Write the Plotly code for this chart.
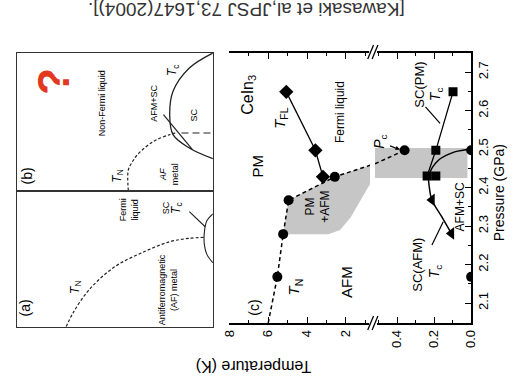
import plotly.graph_objects as go

W, H = 516, 385
FONT = "Liberation Sans, Arial, sans-serif"


def PX(x):
    return x / W


def PY(y):
    return 1 - y / H


# ---------------- Panel (c) data : temperature (K) vs pressure (GPa) ----------------
tn_T = [5.53, 5.23, 4.95, 2.57]
tn_P = [2.168, 2.279, 2.367, 2.428]
tn_line_T = [6.0, 5.53, 5.23, 4.95, 2.57, 0.75]
tn_line_P = [2.048, 2.168, 2.279, 2.367, 2.428, 2.458]

tfl_T = [3.18, 3.57, 5.07]
tfl_P = [2.428, 2.497, 2.649]

coex_T = [5.23, 4.95, 2.57, 0.75, 0.75, 1.3, 1.75, 2.3, 2.9, 5.23]
coex_P = [2.279, 2.367, 2.428, 2.458, 2.41, 2.36, 2.323, 2.29, 2.279, 2.279]

# low-temperature section
coex2_T = [0.52, 0.02, 0.02, 0.52]
coex2_P = [2.425, 2.425, 2.503, 2.503]
pc_line_T = [0.52, 0.36]
pc_line_P = [2.462, 2.497]
pc_T = [0.36]
pc_P = [2.497]
zero_T = [0.0, 0.0]
zero_P = [2.497, 2.168]
sq_T = [0.238, 0.191, 0.191, 0.098]
sq_P = [2.43, 2.43, 2.497, 2.649]
sq_line_T = [0.238, 0.191, 0.098]
sq_line_P = [2.43, 2.497, 2.649]
tri_T = [0.212, 0.107]
tri_P = [2.368, 2.281]
afsc_T = [0.107, 0.16, 0.212, 0.226, 0.228, 0.177, 0.089, 0.0]
afsc_P = [2.281, 2.325, 2.368, 2.40, 2.432, 2.471, 2.493, 2.50]
pm_ptr_T = [0.247, 0.168]
pm_ptr_P = [2.61, 2.567]
afm_ptr_T = [0.212, 0.151]
afm_ptr_P = [2.251, 2.311]

T_ticks_hi = [2, 4, 6, 8]
T_ticks_lo = [0.0, 0.2, 0.4]
P_ticks = [2.1, 2.2, 2.3, 2.4, 2.5, 2.6, 2.7]

# ---------------- Panel (b) schematic (normalised T, P) ----------------
b_tn_T = [0.431, 0.431, 0.41, 0.385, 0.302, 0.220, 0.187]
b_tn_P = [0.0, 0.152, 0.21, 0.261, 0.359, 0.407, 0.419]
b_fo_T = [0.16, 0.0]
b_fo_P = [0.419, 0.419]
b_dome_T = [0.0, 0.12, 0.203, 0.22, 0.203, 0.12, 0.0]
b_dome_P = [1.0, 0.891, 0.722, 0.552, 0.407, 0.31, 0.232]
b_bound_T = [0.252, 0.104]
b_bound_P = [0.552, 0.298]

# ---------------- Panel (a) schematic ----------------
a_tn_T = [0.748, 0.714, 0.632, 0.5, 0.351, 0.219, 0.12, 0.046]
a_tn_P = [0.0, 0.0985, 0.27, 0.441, 0.551, 0.625, 0.65, 0.657]
a_dome_T = [0.0, 0.03, 0.043, 0.043, 0.03, 0.0]
a_dome_P = [0.47, 0.53, 0.6, 0.7, 0.78, 0.83]
a_ptr_T = [0.12, 0.039]
a_ptr_P = [0.846, 0.735]

fig = go.Figure()


def line(xs, ys, xa, ya, dash="solid", width=1.3, color="black", shape="linear"):
    fig.add_trace(go.Scatter(x=xs, y=ys, xaxis=xa, yaxis=ya, mode="lines",
                             line=dict(color=color, width=width, dash=dash, shape=shape),
                             hoverinfo="skip", showlegend=False))


def fill(xs, ys, xa, ya, color="#c6c6c6"):
    fig.add_trace(go.Scatter(x=xs, y=ys, xaxis=xa, yaxis=ya, mode="lines", fill="toself",
                             fillcolor=color, line=dict(width=0, color=color),
                             hoverinfo="skip", showlegend=False))


def marks(xs, ys, xa, ya, symbol, size):
    fig.add_trace(go.Scatter(x=xs, y=ys, xaxis=xa, yaxis=ya, mode="markers",
                             marker=dict(symbol=symbol, size=size, color="black",
                                         line=dict(width=0)),
                             hoverinfo="skip", showlegend=False))


# panel (c) high-T section
fill(coex_T, coex_P, "x", "y")
line(tn_line_T, tn_line_P, "x", "y", dash="4px,3px", width=1.5)
line(tfl_T, tfl_P, "x", "y", width=1.3)
marks(tn_T, tn_P, "x", "y", "circle", 10)
marks(tfl_T, tfl_P, "x", "y", "diamond", 11)

# panel (c) low-T section
fill(coex2_T, coex2_P, "x2", "y")
line(pc_line_T, pc_line_P, "x2", "y", dash="4px,3px", width=1.5)
line(sq_line_T, sq_line_P, "x2", "y", width=1.3)
line(afsc_T, afsc_P, "x2", "y", width=1.5, shape="spline")
line(pm_ptr_T, pm_ptr_P, "x2", "y", width=1.2)
line(afm_ptr_T, afm_ptr_P, "x2", "y", width=1.2)
marks(pc_T, pc_P, "x2", "y", "circle", 10)
marks(zero_T, zero_P, "x2", "y", "circle", 10)
marks(sq_T, sq_P, "x2", "y", "square", 9)
marks(tri_T, tri_P, "x2", "y", "triangle-left", 11)

# panel (b)
line(b_tn_T, b_tn_P, "x3", "y3", dash="3px,2px", width=1.2, color="#222", shape="spline")
line(b_fo_T, b_fo_P, "x3", "y3", dash="7px,4px", width=1.1, color="#222")
line(b_dome_T, b_dome_P, "x3", "y3", width=1.3, color="#222", shape="spline")
line(b_bound_T, b_bound_P, "x3", "y3", width=1.2, color="#222")

# panel (a)
line(a_tn_T, a_tn_P, "x4", "y4", dash="3px,2px", width=1.2, color="#222", shape="spline")
line(a_dome_T, a_dome_P, "x4", "y4", width=1.1, color="#222", shape="spline")
line(a_ptr_T, a_ptr_P, "x4", "y4", width=1.1, color="#222")

tick_common = dict(ticks="inside", tickcolor="black", tickwidth=1, ticklen=6,
                   showline=True, linecolor="black", linewidth=1.5,
                   showgrid=False, zeroline=False, tickangle=-90,
                   tickfont=dict(family=FONT, size=13, color="black"))

y_dom = [PY(323), PY(53)]

fig.update_layout(
    width=W, height=H, margin=dict(l=0, r=0, t=0, b=0),
    paper_bgcolor="white", plot_bgcolor="white", showlegend=False,
    font=dict(family=FONT, color="black"),
    xaxis=dict(domain=[PX(228), PX(373)], range=[8, 0.75], anchor="y",
               tickmode="array", tickvals=T_ticks_hi, ticktext=[str(v) for v in T_ticks_hi],
               minor=dict(tickvals=[1, 3, 5, 7], ticks="inside", ticklen=3, tickcolor="black"),
               mirror="ticks", **tick_common),
    xaxis2=dict(domain=[PX(378), PX(477)], range=[0.52, 0], anchor="y",
                tickmode="array", tickvals=T_ticks_lo, ticktext=["%.1f" % v for v in T_ticks_lo],
                minor=dict(tickvals=[0.1, 0.3, 0.5], ticks="inside", ticklen=3, tickcolor="black"),
                mirror="ticks", **tick_common),
    yaxis=dict(domain=y_dom, range=[2.048, 2.75], anchor="x2", side="right",
               tickmode="array", tickvals=P_ticks, ticktext=["%.1f" % v for v in P_ticks],
               minor=dict(tickvals=[2.05, 2.15, 2.25, 2.35, 2.45, 2.55, 2.65, 2.75],
                          ticks="inside", ticklen=3, tickcolor="black"),
               **tick_common),
    yaxis2=dict(range=[2.048, 2.75], overlaying="y", anchor="x", side="left",
                tickmode="array", tickvals=P_ticks, showticklabels=False,
                minor=dict(tickvals=[2.05, 2.15, 2.25, 2.35, 2.45, 2.55, 2.65, 2.75],
                           ticks="inside", ticklen=3, tickcolor="black"),
                **tick_common),
    xaxis3=dict(domain=[PX(9), PX(211)], range=[1, 0], anchor="y3", showline=True, mirror=True,
                linecolor="#333", linewidth=1.3, showticklabels=False, ticks="",
                showgrid=False, zeroline=False),
    yaxis3=dict(domain=[PY(190.7), PY(53)], range=[0, 1], anchor="x3", showline=True, mirror=True,
                linecolor="#333", linewidth=1.3, showticklabels=False, ticks="",
                showgrid=False, zeroline=False),
    xaxis4=dict(domain=[PX(9), PX(211)], range=[1, 0], anchor="y4", showline=True, mirror=True,
                linecolor="#333", linewidth=1.3, showticklabels=False, ticks="",
                showgrid=False, zeroline=False),
    yaxis4=dict(domain=[PY(326.7), PY(190.7)], range=[0, 1], anchor="x4", showline=True, mirror=True,
                linecolor="#333", linewidth=1.3, showticklabels=False, ticks="",
                showgrid=False, zeroline=False),
)

anns = []


def ann(text, px, py, size, angle=-90, color="black"):
    anns.append(dict(text=text, x=PX(px), y=PY(py), xref="paper", yref="paper",
                     showarrow=False, textangle=angle, xanchor="center", yanchor="middle",
                     font=dict(family=FONT, size=size, color=color)))


# caption and axis titles
ann("[Kawasaki et al,JPSJ 73,1647(2004)].", 245, 10, 19, angle=180, color="#333")
ann("Temperature (K)", 253, 367, 16, angle=180)
ann("Pressure (GPa)", 506, 193, 14)

# panel (c) labels
ann("CeIn<sub>3</sub>", 248, 95, 16)
ann("<i>T</i><sub>FL</sub>", 280, 118, 15)
ann("Fermi liquid", 342, 112, 12)
ann("PM", 257, 166, 15)
ann("PM<br>+AFM", 319, 207, 12)
ann("<i>T</i><sub>N</sub>", 295, 287, 15)
ann("AFM", 348, 282, 15)
ann("(c)", 253, 308, 14)
ann("<i>P</i><sub>c</sub>", 383, 142, 14)
ann("SC(PM)", 424, 85, 13)
ann("<i>T</i><sub>c</sub>", 441, 94, 14)
ann("AFM+SC", 466, 207, 12)
ann("SC(AFM)", 421, 265, 13)
ann("<i>T</i><sub>c</sub>", 440, 271, 14)

# panel (b) labels
ann("(b)", 20, 176, 14)
ann("<i>T</i><sub>N</sub>", 113, 176, 12)
ann("Non-Fermi liquid", 97, 103, 9)
ann("AFM+SC", 150, 103, 9)
ann("<i>T</i><sub>c</sub>", 170, 70, 12)
ann("SC", 192, 115, 9)
ann("<i>AF</i><br>metal", 166, 174, 9)
ann("<b>?</b>", 47, 81, 44, color="#e2381f")

# panel (a) labels
ann("(a)", 18, 308, 14)
ann("<i>T</i><sub>N</sub>", 70, 287, 12)
ann("Fermi<br>liquid", 125, 210, 9)
ann("SC", 163, 208, 9)
ann("<i>T</i><sub>c</sub>", 174, 208, 12)
ann("Antiferromagnetic<br>(AF) metal", 165, 290, 9)

# P_c arrow
anns.append(dict(x=0.385, y=2.499, xref="x2", yref="y", ax=0.447, ay=2.51, axref="x2", ayref="y",
                 text="", showarrow=True, arrowhead=2, arrowsize=0.8, arrowwidth=1.1,
                 arrowcolor="black"))

fig.update_layout(annotations=anns)

# axis-break marks
shapes = []
for yb in (52, 323):
    shapes.append(dict(type="rect", xref="paper", yref="paper", x0=PX(372), x1=PX(380),
                       y0=PY(yb + 3), y1=PY(yb - 3), fillcolor="white", line=dict(width=0)))
    for x0 in (370.5, 375):
        shapes.append(dict(type="line", xref="paper", yref="paper",
                           x0=PX(x0), y0=PY(yb + 7), x1=PX(x0 + 6), y1=PY(yb - 7),
                           line=dict(color="black", width=1.3)))
fig.update_layout(shapes=shapes)

fig.write_html("out.html")
